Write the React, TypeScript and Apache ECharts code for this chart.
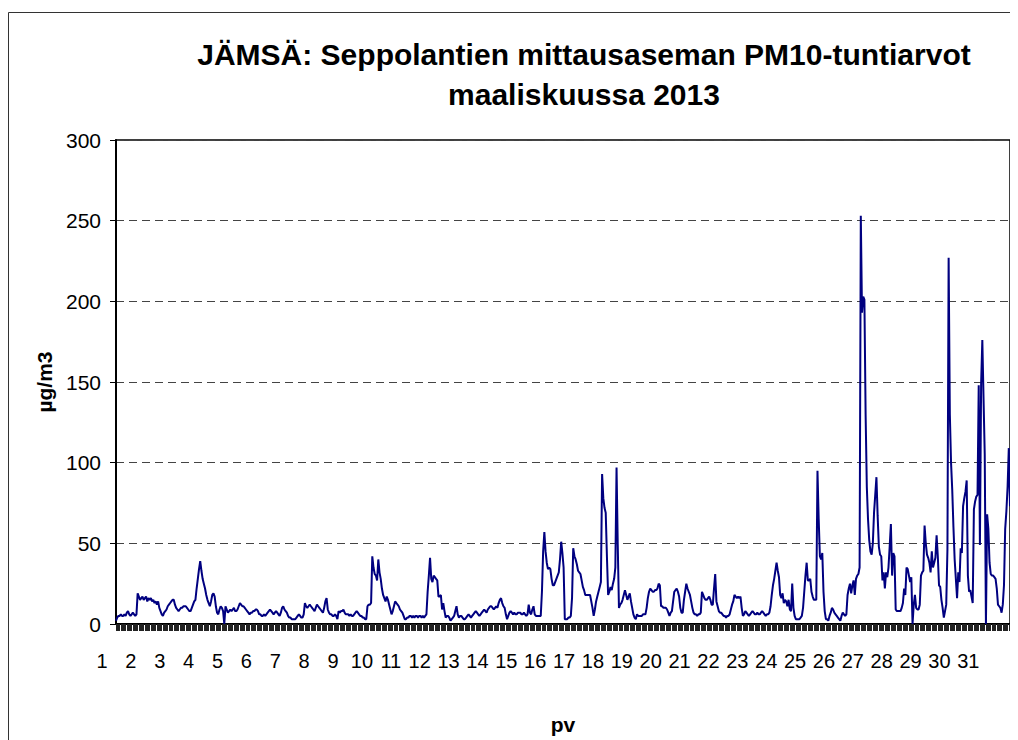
import React, { useEffect, useRef } from "react";
import * as echarts from "echarts";

// Day tick labels (x axis) and hours within a day
const dayLabels = ["1","2","3","4","5","6","7","8","9","10","11","12","13","14","15","16","17","18","19","20","21","22","23","24","25","26","27","28","29","30","31"];
const hourLabels = ["0","1","2","3","4","5","6","7","8","9","10","11","12","13","14","15","16","17","18","19","20","21","22","23"];

// Y axis ticks
const yMin = 0;
const yMax = 300;
const yStep = 50;

// PM10 hourly values (µg/m3), one array per day of March 2013
const d01 = [2,4,5,5,6,5,5,6,5,7,8,6,5,6,7,6,5,6,19,17,15,16,17,15];
const d02 = [16,17,14,16,15,16,14,15,13,14,12,14,10,8,6,5,7,8,9,11,12,13,14,15];
const d03 = [15,12,10,9,8,9,10,10,11,11,11,10,9,8,8,10,12,14,15,22,28,34,39,33];
const d04 = [28,25,22,18,15,13,11,14,18,19,17,11,7,6,9,11,10,8,0,11,9,7,8,9];
const d05 = [8,9,10,8,8,9,11,13,12,11,11,10,9,8,7,6,7,7,8,8,9,9,8,6];
const d06 = [6,5,5,6,5,6,7,8,9,8,7,6,7,8,7,6,5,7,10,11,9,8,7,5];
const d07 = [4,4,3,3,3,3,4,5,6,5,4,4,6,13,11,10,11,12,11,10,9,8,10,12];
const d08 = [11,10,9,8,7,10,14,16,9,7,6,6,5,5,6,5,3,8,7,8,8,9,7,6];
const d09 = [6,6,5,6,5,5,6,7,8,7,6,5,5,4,4,3,3,11,12,12,13,42,35,31];
const d10 = [30,27,40,32,28,22,18,16,14,17,15,12,9,6,8,11,14,13,12,11,9,8,7,5];
const d11 = [3,3,4,4,5,5,4,5,4,5,5,4,5,5,4,5,4,5,6,20,30,41,28,26];
const d12 = [30,29,28,27,17,17,18,9,13,8,4,5,5,4,2,3,4,5,8,11,6,4,5,5];
const d13 = [4,3,3,4,5,6,5,4,5,6,7,8,7,6,5,6,7,8,9,8,7,9,10,11];
const d14 = [11,10,9,10,11,10,13,15,16,13,11,10,6,3,5,7,8,7,6,7,6,6,7,7];
const d15 = [7,6,6,7,6,5,6,12,7,6,9,11,6,5,5,5,5,5,20,45,57,45,38,34];
const d16 = [35,34,28,24,24,26,28,30,32,40,51,44,35,3,3,3,4,4,5,16,47,42,40,37];
const d17 = [33,32,31,27,23,21,18,18,18,18,18,14,10,5,9,14,17,20,23,26,93,78,72,69];
const d18 = [42,18,20,23,21,25,28,35,97,49,10,12,13,15,18,21,18,15,17,19,14,10,6,4];
const d19 = [3,6,5,5,5,5,6,6,6,10,16,20,22,21,20,20,21,21,22,25,24,11,11,10];
const d20 = [10,10,9,7,5,7,8,14,20,21,22,20,17,10,7,7,15,20,25,22,20,18,14,10];
const d21 = [7,6,6,5,6,6,7,20,18,16,15,15,16,17,15,12,12,22,31,14,11,8,7,7];
const d22 = [6,5,5,4,5,5,6,9,12,14,18,17,16,17,16,17,10,5,6,8,7,6,5,6];
const d23 = [7,8,7,6,6,7,6,6,7,8,7,6,5,6,6,7,11,18,24,28,33,38,33,29];
const d24 = [18,16,19,13,15,14,11,15,9,8,25,10,5,3,3,3,3,4,5,10,20,30,38,27];
const d25 = [27,28,20,17,15,15,15,95,65,42,40,44,20,8,3,3,2,5,7,10,9,7,6,5];
const d26 = [4,3,2,5,7,6,5,6,18,22,25,19,24,27,18,28,30,31,35,253,193,203,201,130];
const d27 = [85,65,52,45,43,50,69,80,91,67,48,43,42,27,32,22,32,29,35,48,62,30,44,42];
const d28 = [9,8,8,8,8,10,13,22,18,35,34,30,26,29,0,12,18,10,9,9,12,30,32,33];
const d29 = [61,50,43,41,38,32,45,35,38,41,55,42,24,23,15,10,4,8,12,46,227,130,100,83];
const d30 = [60,40,28,16,32,26,47,44,73,78,82,89,30,20,21,17,13,71,76,79,80,148,49,149];
const d31 = [176,140,105,0,68,59,38,31,30,30,29,28,22,12,11,10,7,12,24,59,70,85,109,73];

const days = [d01,d02,d03,d04,d05,d06,d07,d08,d09,d10,d11,d12,d13,d14,d15,d16,d17,d18,d19,d20,d21,d22,d23,d24,d25,d26,d27,d28,d29,d30,d31];

const FONT = "'Liberation Sans', Arial, Helvetica, sans-serif";

export default function App() {
  const ref = useRef<HTMLDivElement | null>(null);

  useEffect(() => {
    if (!ref.current) return;
    const chart = echarts.init(ref.current, undefined, { renderer: "svg" });

    const categories: string[] = [];
    dayLabels.forEach((d) => hourLabels.forEach((h) => categories.push(d + ":" + h)));
    const values: number[] = [];
    days.forEach((arr) => arr.forEach((v) => values.push(v)));

    chart.setOption({
      animation: false,
      backgroundColor: "#ffffff",
      title: {
        text: "JÄMSÄ: Seppolantien mittausaseman PM10-tuntiarvot\nmaaliskuussa 2013",
        left: 571,
        top: 21,
        textAlign: "center",
        textStyle: {
          fontFamily: FONT,
          fontSize: 30,
          fontWeight: "bold",
          color: "#000",
          lineHeight: 40,
        },
      },
      grid: {
        left: 108,
        right: 8,
        top: 132,
        bottom: 111,
        show: true,
        borderColor: "#000",
        borderWidth: 1.5,
        backgroundColor: "#fff",
      },
      xAxis: {
        type: "category",
        data: categories,
        boundaryGap: false,
        name: "pv",
        nameLocation: "middle",
        nameGap: 90,
        nameTextStyle: { fontFamily: FONT, fontSize: 21, fontWeight: "bold", color: "#000" },
        axisLine: { show: true, lineStyle: { color: "#000", width: 2 } },
        axisTick: { show: true, interval: 0, length: 7, lineStyle: { color: "#222", width: 1 } },
        axisLabel: {
          interval: (index: number) => index % 24 === 0,
          formatter: (v: string) => v.split(":")[0],
          fontFamily: FONT,
          fontSize: 20,
          color: "#000",
          margin: 27,
          padding: [0, 28, 0, 0],
        },
        splitLine: { show: false },
      },
      yAxis: {
        type: "value",
        min: yMin,
        max: yMax,
        interval: yStep,
        name: "µg/m3",
        nameLocation: "middle",
        nameGap: 60,
        nameRotate: 90,
        nameTextStyle: { fontFamily: FONT, fontSize: 21, fontWeight: "bold", color: "#000" },
        axisLine: { show: true, lineStyle: { color: "#000", width: 2 } },
        axisTick: { show: true, length: 6, lineStyle: { color: "#000", width: 1 } },
        axisLabel: { fontFamily: FONT, fontSize: 21, color: "#000", margin: 15 },
        splitLine: { show: true, lineStyle: { color: "#444", type: [8, 5], width: 1 } },
      },
      series: [
        {
          type: "line",
          data: values,
          symbol: "none",
          showSymbol: false,
          lineStyle: { color: "#000080", width: 2 },
          itemStyle: { color: "#000080" },
        },
      ],
      graphic: [
        {
          type: "rect",
          shape: { x: 0.5, y: 4.5, width: 1100, height: 800 },
          style: { fill: "none", stroke: "#333", lineWidth: 1 },
          silent: true,
          z: 100,
        },
      ],
    });

    return () => chart.dispose();
  }, []);

  return <div ref={ref} style={{ width: 1010, height: 732 }} />;
}
